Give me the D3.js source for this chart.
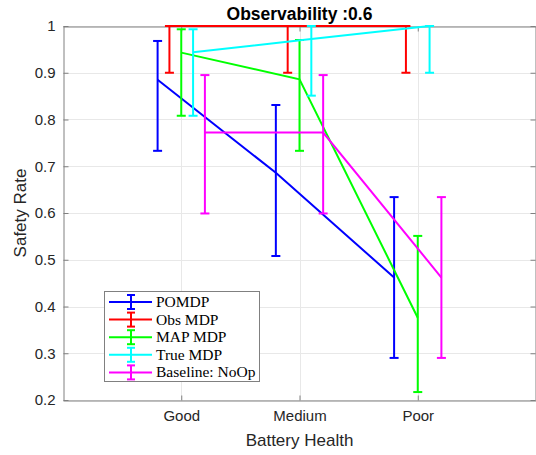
<!DOCTYPE html>
<html>
<head>
<meta charset="utf-8">
<script src="https://cdn.jsdelivr.net/npm/d3@7"></script>
<style>
  html, body { margin: 0; padding: 0; background: #fff; }
  svg { display: block; }
</style>
</head>
<body>
<div id="chart"></div>
<script>
const categories = ['Good', 'Medium', 'Poor'];
const seriesNames = ['POMDP', 'Obs MDP', 'MAP MDP', 'True MDP', 'Baseline: NoOp'];
const seriesColors = ['#0000ff', '#ff0000', '#00ff00', '#00ffff', '#ff00ff'];
const seriesOffsets = [-0.2, -0.1, 0, 0.1, 0.2];

const means = [
  [0.885, 0.686, 0.462],
  [1.0, 1.0, 1.0],
  [0.943, 0.886, 0.376],
  [0.944, 0.972, 1.0],
  [0.772, 0.772, 0.462],
];
const lowers = [
  [0.733, 0.508, 0.290],
  [0.900, 0.900, 0.900],
  [0.808, 0.733, 0.217],
  [0.808, 0.851, 0.900],
  [0.599, 0.599, 0.290],
];
const uppers = [
  [0.968, 0.831, 0.634],
  [1.0, 1.0, 1.0],
  [0.993, 0.970, 0.551],
  [0.993, 1.0, 1.0],
  [0.895, 0.895, 0.634],
];
const yTicks = [0.2, 0.3, 0.4, 0.5, 0.6, 0.7, 0.8, 0.9, 1];

const width = 536;
const height = 455;
const margin = { top: 26, right: 0, bottom: 55, left: 63 };

const svg = d3.select('#chart').append('svg')
  .attr('width', width)
  .attr('height', height);

const x = d3.scaleLinear().domain([0, 4]).range([margin.left, width - margin.right]);
const y = d3.scaleLinear().domain([0.2, 1]).range([height - margin.bottom, margin.top]);

const x0 = x.range()[0], x1 = x.range()[1];
const y0 = y.range()[0], y1 = y.range()[1];
const axisColor = '#808080';
const textColor = '#262626';
const gridColor = '#e8e8e8';

// grid
svg.append('g').selectAll('line.gy').data(yTicks).join('line')
  .attr('x1', x0).attr('x2', x1)
  .attr('y1', (d) => Math.round(y(d)) + 0.5).attr('y2', (d) => Math.round(y(d)) + 0.5)
  .attr('stroke', gridColor);
svg.append('g').selectAll('line.gx').data([1, 2, 3]).join('line')
  .attr('x1', (d) => Math.round(x(d)) + 0.5).attr('x2', (d) => Math.round(x(d)) + 0.5)
  .attr('y1', y0).attr('y2', y1)
  .attr('stroke', gridColor);

// axes (box with inward ticks)
const yAxisL = d3.axisLeft(y).tickValues(yTicks).tickFormat(d3.format('~g')).tickSizeInner(-5).tickSizeOuter(0).tickPadding(8);
const yAxisR = d3.axisRight(y).tickValues(yTicks).tickFormat('').tickSizeInner(-5).tickSizeOuter(0);
const xAxisB = d3.axisBottom(x).tickValues([1, 2, 3]).tickFormat((d) => categories[d - 1]).tickSizeInner(-5).tickSizeOuter(0).tickPadding(10);
const xAxisT = d3.axisTop(x).tickValues([1, 2, 3]).tickFormat('').tickSizeInner(-5).tickSizeOuter(0);

function styleAxis(g) {
  g.selectAll('path, line').attr('stroke', axisColor);
  g.selectAll('text').attr('fill', textColor)
    .attr('font-family', 'Liberation Sans, Arial, sans-serif').attr('font-size', 15);
}
svg.append('g').attr('transform', `translate(${x0 + 0.5},0)`).call(yAxisL).call(styleAxis);
svg.append('g').attr('transform', `translate(${x1 - 0.5},0)`).call(yAxisR).call(styleAxis);
svg.append('g').attr('transform', `translate(0,${y0 + 0.5})`).call(xAxisB).call(styleAxis);
svg.append('g').attr('transform', `translate(0,${y1 + 0.5})`).call(xAxisT).call(styleAxis);

// labels
svg.append('text')
  .attr('x', (x0 + x1) / 2).attr('y', 446)
  .attr('text-anchor', 'middle')
  .attr('font-family', 'Liberation Sans, Arial, sans-serif').attr('font-size', 17)
  .attr('fill', textColor)
  .text('Battery Health');
svg.append('text')
  .attr('transform', `translate(26,${(y0 + y1) / 2}) rotate(-90)`)
  .attr('text-anchor', 'middle')
  .attr('font-family', 'Liberation Sans, Arial, sans-serif').attr('font-size', 17)
  .attr('fill', textColor)
  .text('Safety Rate');
svg.append('text')
  .attr('x', (x0 + x1) / 2).attr('y', 20)
  .attr('text-anchor', 'middle')
  .attr('font-family', 'Liberation Sans, Arial, sans-serif').attr('font-size', 17.5)
  .attr('font-weight', 'bold')
  .attr('fill', '#000')
  .text('Observability :0.6');

// data
svg.append('clipPath').attr('id', 'plot-clip').append('rect')
  .attr('x', x0 - 2).attr('y', y1 - 2).attr('width', x1 - x0 + 4).attr('height', y0 - y1 + 4);

const plot = svg.append('g').attr('clip-path', 'url(#plot-clip)');
const line = d3.line().x((d) => x(d.x)).y((d) => y(d.m));
const capHalf = 4.5;

seriesNames.forEach((name, s) => {
  const pts = categories.map((c, i) => ({
    x: i + 1 + seriesOffsets[s], m: means[s][i], lo: lowers[s][i], hi: uppers[s][i],
  }));
  const g = plot.append('g').attr('stroke', seriesColors[s]).attr('stroke-width', 2).attr('fill', 'none');
  g.append('path').attr('d', line(pts));
  pts.forEach((p) => {
    const px = x(p.x);
    g.append('line').attr('x1', px).attr('x2', px).attr('y1', y(p.lo)).attr('y2', y(p.hi));
    g.append('line').attr('x1', px - capHalf).attr('x2', px + capHalf).attr('y1', y(p.lo)).attr('y2', y(p.lo));
    g.append('line').attr('x1', px - capHalf).attr('x2', px + capHalf).attr('y1', y(p.hi)).attr('y2', y(p.hi));
  });
});

// legend
const legend = svg.append('g');
legend.append('rect')
  .attr('x', 104.5).attr('y', 291.5).attr('width', 155).attr('height', 90)
  .attr('fill', '#fff').attr('stroke', '#808080');
seriesNames.forEach((name, s) => {
  const ly = 302 + s * 17.6;
  const g = legend.append('g').attr('stroke', seriesColors[s]).attr('stroke-width', 2);
  g.append('line').attr('x1', 109).attr('x2', 152).attr('y1', ly).attr('y2', ly);
  g.append('line').attr('x1', 131).attr('x2', 131).attr('y1', ly - 7).attr('y2', ly + 7);
  g.append('line').attr('x1', 127).attr('x2', 135).attr('y1', ly - 7).attr('y2', ly - 7);
  g.append('line').attr('x1', 127).attr('x2', 135).attr('y1', ly + 7).attr('y2', ly + 7);
  legend.append('text')
    .attr('x', 156).attr('y', ly + 5)
    .attr('font-family', 'Liberation Serif, Times New Roman, serif').attr('font-size', 15.5)
    .attr('fill', '#000')
    .text(name);
});
</script>
</body>
</html>
